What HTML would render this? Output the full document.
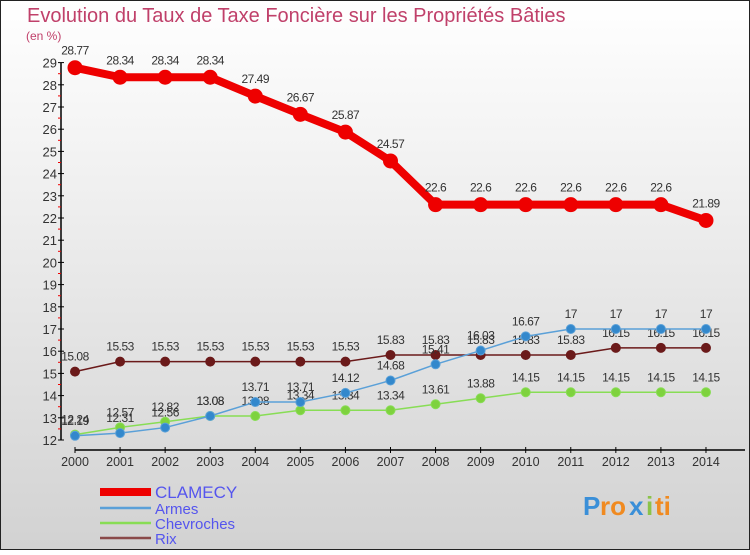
<!DOCTYPE html>
<html><head><meta charset="utf-8"><style>
html,body{margin:0;padding:0}
body{width:750px;height:550px;overflow:hidden;font-family:"Liberation Sans",sans-serif}
</style></head><body>
<svg id="chart" width="750" height="550" xmlns="http://www.w3.org/2000/svg" font-family="Liberation Sans, sans-serif">
<defs><linearGradient id="bg" x1="0" y1="0" x2="0" y2="1"><stop offset="0" stop-color="#ffffff"/><stop offset="1" stop-color="#d2d2d2"/></linearGradient></defs>
<rect x="0.5" y="0.5" width="749" height="549" fill="url(#bg)" stroke="#222" stroke-width="1"/>
<text x="27" y="22" font-size="20" fill="#c0406a">Evolution du Taux de Taxe Foncière sur les Propriétés Bâties</text>
<text x="26" y="40" font-size="12" fill="#c0406a">(en %)</text>
<g id="axes"></g>
<g id="series"></g>
<g id="legend"></g>
<g font-size="26" font-weight="bold">
<text x="583" y="515" fill="#3a8fd8">P</text><text x="600" y="515" fill="#f08a20">ro</text><text x="629" y="515" fill="#3a8fd8">x</text><text x="646" y="515" fill="#8bc34a">i</text><text x="655" y="515" fill="#f08a20">ti</text>
</g>
</svg>
<script>
const years=[2000,2001,2002,2003,2004,2005,2006,2007,2008,2009,2010,2011,2012,2013,2014];
const clamecy=[28.77,28.34,28.34,28.34,27.49,26.67,25.87,24.57,22.6,22.6,22.6,22.6,22.6,22.6,21.89];
const armes=[12.19,12.31,12.56,13.08,13.71,13.71,14.12,14.68,15.41,16.03,16.67,17,17,17,17];
const chevroches=[12.24,12.57,12.82,13.08,13.08,13.34,13.34,13.34,13.61,13.88,14.15,14.15,14.15,14.15,14.15];
const rix=[15.08,15.53,15.53,15.53,15.53,15.53,15.53,15.83,15.83,15.83,15.83,15.83,16.15,16.15,16.15];
const yTicks=[12,13,14,15,16,17,18,19,20,21,22,23,24,25,26,27,28,29];
const NS="http://www.w3.org/2000/svg";
const X=i=>75+i*45.07;
const Y=v=>440-(v-12)*22.2;
function mk(tag,attrs,parent,txt){const e=document.createElementNS(NS,tag);for(const k in attrs)e.setAttribute(k,attrs[k]);if(txt!==undefined)e.textContent=txt;parent.appendChild(e);return e;}
const axes=document.getElementById('axes');
let yl=mk('line',{x1:61,y1:Y(29),x2:61,y2:440,stroke:'#000','stroke-width':1.5},axes);


yTicks.forEach(t=>{
 mk('line',{x1:58,y1:Y(t),x2:64,y2:Y(t),stroke:'#000'},axes);
 if(t<29) mk('line',{x1:58,y1:Y(t+0.5),x2:61,y2:Y(t+0.5),stroke:'#e00'},axes);
 let l=mk('text',{x:57,y:Y(t)+5,'font-size':13,'text-anchor':'end',fill:'#333'},axes,String(t));
 
 
});
let xl=mk('line',{x1:X(0),y1:450,x2:745,y2:450,stroke:'#000','stroke-width':1.5},axes);


years.forEach((y,i)=>{
 mk('line',{x1:X(i),y1:447,x2:X(i),y2:453,stroke:'#000'},axes);
 let l=mk('text',{x:X(i),y:466,'font-size':12.5,'text-anchor':'middle',fill:'#333'},axes,String(y));
 
 
});
const series=document.getElementById('series');
function draw(name,vals,color,w,r,dot,off){
 const g=mk('g',{},series);
 
 
 const p=mk('polyline',{points:vals.map((v,i)=>X(i)+','+Y(v)).join(' '),fill:'none',stroke:color,'stroke-width':w,'stroke-linejoin':'round'},g);
 
 
 vals.forEach((v,i)=>{
  const c=mk('circle',{cx:X(i),cy:Y(v),r:r,fill:dot,stroke:color,'stroke-width':1},g);
  
  
  const t=mk('text',{x:X(i),y:Y(v)-off,'font-size':12,'text-anchor':'middle',fill:'#333','letter-spacing':'-0.5'},g,String(v));
  
  
 });
}
draw('rix',rix,'#6b1a1a',1.5,4.5,'#6b1a1a',11);
draw('chevroches',chevroches,'#88dd55',1.5,4.5,'#7ed23e',11);
draw('armes',armes,'#5aa0d8',1.5,4.5,'#3388cc',11);
draw('clamecy',clamecy,'#ee0000',8,7,'#ee0000',13);
const lg=document.getElementById('legend');


[['CLAMECY','#ee0000',8,492,17],['Armes','#5aa0d8',2.5,508,15],['Chevroches','#88dd55',2.5,523,15],['Rix','#8a4a4a',2.5,538,15]].forEach(e=>{
 const g=mk('g',{},lg);
 
 
 mk('line',{x1:100,y1:e[3],x2:151,y2:e[3],stroke:e[1],'stroke-width':e[2]},g);
 mk('text',{x:155,y:e[3]+6,'font-size':e[4],fill:'#5555ee'},g,e[0]);
});
</script>
</body></html>
